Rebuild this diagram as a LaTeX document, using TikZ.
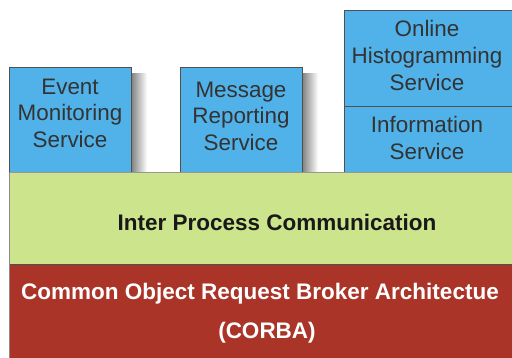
\documentclass[tikz,border=0pt]{standalone}
\usepackage{fontspec}
\setmainfont{Liberation Sans}
\definecolor{svcblue}{RGB}{80,178,232}
\definecolor{ipcgreen}{RGB}{204,228,140}
\definecolor{corbared}{RGB}{170,52,40}
\definecolor{edge}{RGB}{80,80,80}
\begin{document}
\begin{tikzpicture}[x=1pt,y=-1pt,
  svcbox/.style={draw=edge, fill=svcblue, line width=0.9pt, inner sep=0pt, outer sep=0pt, anchor=north west},
  layer/.style={inner sep=0pt, outer sep=0pt, anchor=north west},
  svctext/.style={font=\fontsize{22.4}{26}\selectfont, text=black!80, anchor=base, inner sep=0pt},
  layertext/.style={font=\fontsize{22.5}{26}\selectfont\bfseries, anchor=base, inner sep=0pt},
  dropshadow/.style={left color=black!50, right color=white}]
\useasboundingbox (0,0) rectangle (512,358);

% soft shadows beside the two short service boxes
\shade[dropshadow] (131,74) rectangle (147,172);
\shade[dropshadow] (302,74) rectangle (318,172);

% service boxes
\node[svcbox, minimum width=122pt, minimum height=105pt] (event) at (9,67) {};
\node[svcbox, minimum width=122pt, minimum height=105pt] (msg) at (180,67) {};
\node[svcbox, minimum width=170pt, minimum height=96pt] (histo) at (344,10) {};
\node[svcbox, minimum width=170pt, minimum height=66pt] (info) at (344,106) {};

% layers
\node[layer, fill=ipcgreen, draw=edge!60, line width=0.6pt, minimum width=505pt, minimum height=93pt] (ipc) at (9,172) {};
\node[layer, fill=corbared, minimum width=505pt, minimum height=95pt] (corba) at (9,265) {};
\draw[edge, line width=1pt] (corba.north west) -- (corba.north east);
\draw[black!45, line width=0.8pt] (ipc.north west) -- (corba.south west);

% service labels
\node[svctext] (eventA) at (70,95) {Event};
\node[svctext] (eventB) at (70,121) {Monitoring};
\node[svctext] (eventC) at (70,148) {Service};

\node[svctext] (msgA) at (241,98) {Message};
\node[svctext] (msgB) at (241,124) {Reporting};
\node[svctext] (msgC) at (241,151) {Service};

\node[svctext] (histoA) at (427,37) {Online};
\node[svctext] (histoB) at (427,64) {Histogramming};
\node[svctext] (histoC) at (427,91) {Service};

\node[svctext] (infoA) at (427,133) {Information};
\node[svctext] (infoB) at (427,160) {Service};

% layer labels
\node[layertext, text=black!90] (ipcT) at (277,231) {Inter Process Communication};
\node[layertext, text=white] (corbaA) at (260,300) {Common Object Request Broker Architectue};
\node[layertext, text=white] (corbaB) at (267,339) {(CORBA)};
\end{tikzpicture}
\end{document}
